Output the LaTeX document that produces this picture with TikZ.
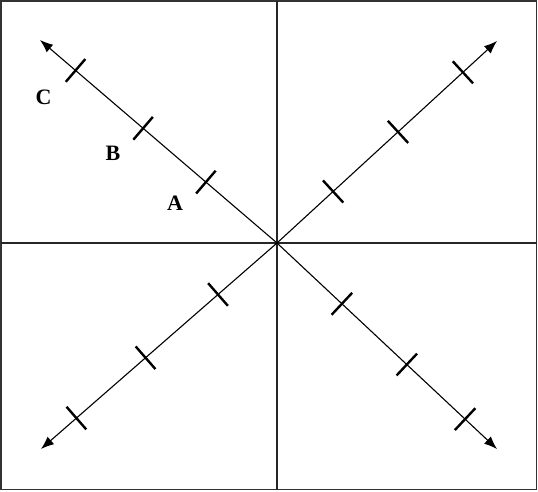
\documentclass[tikz,border=0pt]{standalone}
\usepackage{fontspec}
\setmainfont{Liberation Serif}
\usetikzlibrary{calc,arrows.meta}
\begin{document}
\begin{tikzpicture}[x=1pt, y=-1pt, >=latex,
  axis/.style={line width=1.1pt, black!85},
  arm/.style={line width=1.1pt, -{Latex[length=13pt, width=10pt]}},
  tickmark/.style={line width=2.4pt},
  lbl/.style={font=\fontsize{22}{24}\selectfont\bfseries, inner sep=0pt}]
  \useasboundingbox (0,0) rectangle (538,491);
  \draw[line width=1.5pt, black!80] (1,1) rectangle (536.5,489.5);

  % axes
  \coordinate (O) at (277,243);
  \coordinate (top) at (277,1);
  \coordinate (bottom) at (277,489.5);
  \coordinate (left) at (1,243);
  \coordinate (right) at (536.5,243);
  \draw[axis] (top) -- (bottom);
  \draw[axis] (left) -- (right);

  % diagonals with ticks
  \coordinate (tl) at (40,40);
  \coordinate (tr) at (497,41);
  \coordinate (br) at (497,449);
  \coordinate (bl) at (41,449);
  \foreach \e/\a/\b/\c in {tl/0.30/0.565/0.85, tr/0.255/0.55/0.845,
                           br/0.295/0.59/0.855, bl/0.25/0.557/0.85} {
    \draw[arm] (O) -- (\e);
    \foreach \p in {\a,\b,\c} {
      \path ($(O)!\p!(\e)$) coordinate (t);
      \draw[tickmark] ($(t)!15pt!90:(\e)$) -- ($(t)!15pt!-90:(\e)$);
    }
  }

  \node[lbl] (A) at (175,203) {A};
  \node[lbl] (B) at (113,153) {B};
  \node[lbl] (C) at (43.5,97) {C};
\end{tikzpicture}
\end{document}
